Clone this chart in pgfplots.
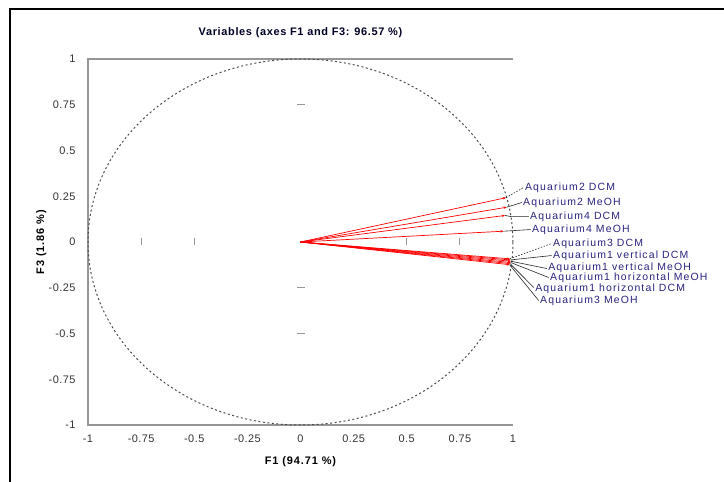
\documentclass[border=0pt]{standalone}
\usepackage{pgfplots}
\pgfplotsset{compat=1.18}
\usepackage{fontspec}
\setmainfont{Liberation Sans}
\usetikzlibrary{arrows.meta}
\definecolor{lbl}{RGB}{40,35,125}
\definecolor{axgray}{RGB}{150,150,150}
\begin{document}
\begin{tikzpicture}
\useasboundingbox (0,0) rectangle (724bp,482bp);
\draw[black, line width=2.5bp] (10bp,0) -- (10bp,473bp) -- (724bp,473bp);
\begin{axis}[
  at={(88bp,57bp)}, anchor=south west,
  scale only axis, width=425bp, height=366bp,
  xmin=-1, xmax=1, ymin=-1, ymax=1,
  xtick={-1,-0.75,-0.5,-0.25,0,0.25,0.5,0.75,1},
  ytick={-1,-0.75,-0.5,-0.25,0,0.25,0.5,0.75,1},
  major tick length=0,
  axis line style={draw=none},
  clip=false,
  /pgf/number format/assume math mode=true,
  tick label style={font=\fontsize{11}{12}\selectfont\addfontfeatures{LetterSpace=4}, text=black!80},
  xticklabel style={yshift=-6bp},
  yticklabel style={xshift=-9bp},
  title={Variables (axes F1 and F3: 96.57 \%)},
  title style={font=\bfseries\fontsize{11}{12}\selectfont\addfontfeatures{LetterSpace=6}, text=black!85!blue, at={(axis description cs:0.5,1.0546)}, anchor=center},
  xlabel={F1 (94.71 \%)},
  ylabel={F3 (1.86 \%)},
  xlabel style={font=\bfseries\fontsize{11}{12}\selectfont\addfontfeatures{LetterSpace=8}, at={(axis description cs:0.5,-0.101)}, anchor=center},
  ylabel style={font=\bfseries\fontsize{11}{12}\selectfont\addfontfeatures{LetterSpace=8}, at={(axis description cs:-0.11,0.5)}, anchor=center},
]
\draw[axgray, line width=1.2bp] (axis cs:1,1) -- (axis cs:-1,1) -- (axis cs:-1,-1) -- (axis cs:1,-1);
\draw[black!70, line width=1bp, dash pattern=on 2bp off 2.5bp] (axis cs:0,0) ellipse [x radius=1, y radius=1];
\addplot[only marks, mark=|, mark size=3.5bp, color=axgray, mark options={line width=1bp}] coordinates {(-0.75,0) (-0.5,0) (0.5,0) (0.75,0)};
\addplot[only marks, mark=-, mark size=4bp, color=axgray, mark options={line width=1bp}] coordinates {(0,0.75) (0,-0.25) (0,-0.5)};
% variable vectors
\addplot[red, line width=0.7bp, -{Stealth[length=3bp,width=2.5bp]}] coordinates {(0,0) (0.967,0.242)};
\addplot[red, line width=0.7bp, -{Stealth[length=3bp,width=2.5bp]}] coordinates {(0,0) (0.970,0.190)};
\addplot[red, line width=0.7bp, -{Stealth[length=3bp,width=2.5bp]}] coordinates {(0,0) (0.962,0.145)};
\addplot[red, line width=0.7bp, -{Stealth[length=3bp,width=2.5bp]}] coordinates {(0,0) (0.955,0.059)};
\addplot[red, line width=0.7bp, -{Stealth[length=3bp,width=2.5bp]}] coordinates {(0,0) (0.985,-0.092)};
\addplot[red, line width=0.7bp, -{Stealth[length=3bp,width=2.5bp]}] coordinates {(0,0) (0.988,-0.098)};
\addplot[red, line width=0.7bp, -{Stealth[length=3bp,width=2.5bp]}] coordinates {(0,0) (0.990,-0.105)};
\addplot[red, line width=0.7bp, -{Stealth[length=3bp,width=2.5bp]}] coordinates {(0,0) (0.989,-0.112)};
\addplot[red, line width=0.7bp, -{Stealth[length=3bp,width=2.5bp]}] coordinates {(0,0) (0.986,-0.118)};
\addplot[red, line width=0.7bp, -{Stealth[length=3bp,width=2.5bp]}] coordinates {(0,0) (0.984,-0.124)};
% leader lines
\draw[black!85, line width=0.6bp, dash pattern=on 1.5bp off 1.5bp] (axis cs:0.967,0.242) -- (axis cs:1.050,0.298);
\draw[black!85, line width=0.6bp] (axis cs:0.970,0.190) -- (axis cs:1.042,0.216);
\draw[black!85, line width=0.6bp] (axis cs:0.962,0.145) -- (axis cs:0.990,0.139) -- (axis cs:1.075,0.139);
\draw[black!85, line width=0.6bp] (axis cs:0.955,0.059) -- (axis cs:1.084,0.068);
\draw[black!85, line width=0.6bp, dash pattern=on 1.5bp off 1.5bp] (axis cs:0.985,-0.092) -- (axis cs:1.182,-0.008);
\draw[black!85, line width=0.6bp] (axis cs:0.988,-0.098) -- (axis cs:1.182,-0.074);
\draw[black!85, line width=0.6bp] (axis cs:0.990,-0.105) -- (axis cs:1.159,-0.145);
\draw[black!85, line width=0.6bp] (axis cs:0.989,-0.112) -- (axis cs:1.168,-0.194);
\draw[black!85, line width=0.6bp] (axis cs:0.986,-0.118) -- (axis cs:1.098,-0.249);
\draw[black!85, line width=0.6bp] (axis cs:0.984,-0.124) -- (axis cs:1.121,-0.320);
% labels
\begin{scope}[every node/.style={anchor=west, inner sep=0pt, text=lbl, font=\fontsize{10.5}{11}\selectfont\addfontfeatures{LetterSpace=11}}]
\node at (axis cs:1.056,0.298) {Aquarium2 DCM};
\node at (axis cs:1.047,0.216) {Aquarium2 MeOH};
\node at (axis cs:1.080,0.139) {Aquarium4 DCM};
\node at (axis cs:1.089,0.068) {Aquarium4 MeOH};
\node at (axis cs:1.188,-0.008) {Aquarium3 DCM};
\node at (axis cs:1.188,-0.074) {Aquarium1 vertical DCM};
\node at (axis cs:1.165,-0.140) {Aquarium1 vertical MeOH};
\node at (axis cs:1.174,-0.196) {Aquarium1 horizontal MeOH};
\node at (axis cs:1.104,-0.253) {Aquarium1 horizontal DCM};
\node at (axis cs:1.127,-0.322) {Aquarium3 MeOH};
\end{scope}
\end{axis}
\end{tikzpicture}
\end{document}
